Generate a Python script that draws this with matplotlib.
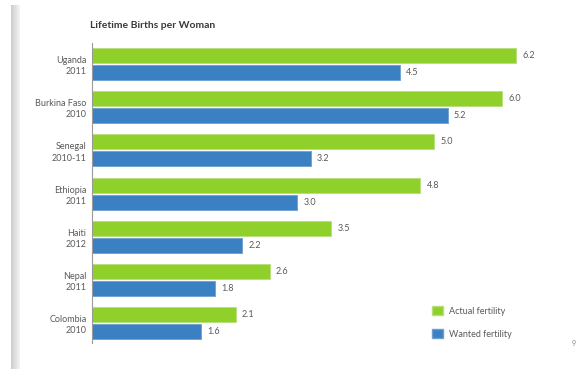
import matplotlib.pyplot as plt
import numpy as np
from matplotlib.patches import Patch

plt.rcParams['font.family'] = ['Lato', 'DejaVu Sans']

countries = ['Uganda\n2011', 'Burkina Faso\n2010', 'Senegal\n2010-11', 'Ethiopia\n2011',
             'Haiti\n2012', 'Nepal\n2011', 'Colombia\n2010']
actual = [6.2, 6.0, 5.0, 4.8, 3.5, 2.6, 2.1]
wanted = [4.5, 5.2, 3.2, 3.0, 2.2, 1.8, 1.6]

green = '#8fd02a'
blue = '#3b80c2'
grey_txt = '#5a5a5a'

W, H = 579, 369
fig = plt.figure(figsize=(W / 100, H / 100), dpi=100)

# scanned-page shadow on the left edge
bg = fig.add_axes([11 / W, 0, 9 / W, 1 - 5 / H])
grad = np.linspace(0.80, 0.96, 50).reshape(1, -1)
bg.imshow(grad, cmap='gray', vmin=0, vmax=1, aspect='auto', extent=[0, 1, 0, 1])
bg.axis('off')

# axes: x from px 92 to right edge, y from px 43 to 343
ax = fig.add_axes([92 / W, (H - 343) / H, (W - 92) / W, 300 / H])
y = np.arange(len(countries))
off = 8.5 / 43.2
h = 15 / 43.2
ax.barh(y - off, actual, height=h, color=green, edgecolor='#b9dd7a', linewidth=0.6)
ax.barh(y + off, wanted, height=h, color=blue, edgecolor='#6d9fcf', linewidth=0.6)

for i in range(len(countries)):
    ax.text(actual[i] + 0.09, y[i] - off, f'{actual[i]:.1f}', va='center', ha='left',
            fontsize=6.5, color=grey_txt)
    ax.text(wanted[i] + 0.09, y[i] + off, f'{wanted[i]:.1f}', va='center', ha='left',
            fontsize=6.5, color=grey_txt)

ax.set_xlim(0, (W - 92) / 68.4)
ax.set_ylim(6.458, -0.486)
ax.set_yticks(y)
ax.set_yticklabels(countries, fontsize=6.5, color=grey_txt, linespacing=1.3)
ax.tick_params(axis='y', length=0, pad=4)
ax.set_xticks([])
for s in ['top', 'right', 'bottom']:
    ax.spines[s].set_visible(False)
ax.spines['left'].set_color('#9a9a9a')
ax.spines['left'].set_linewidth(0.8)
ax.patch.set_alpha(0)

fig.text(90 / W, 1 - 26 / H, 'Lifetime Births per Woman', fontsize=7.5, fontweight='bold',
         color='#3a3a3a', va='center', ha='left')

handles = [Patch(facecolor=green, edgecolor='#b9dd7a'), Patch(facecolor=blue, edgecolor='#6d9fcf')]
fig.legend(handles, ['Actual fertility', 'Wanted fertility'], loc='upper left',
           bbox_to_anchor=(424 / W, 1 - 298 / H), frameon=False, fontsize=6.5,
           handlelength=1.22, handleheight=1.22, labelspacing=1.45, handletextpad=0.6,
           labelcolor=grey_txt)

fig.text(574 / W, 1 - 343 / H, '9', fontsize=5, color='#8a8a8a', va='center', ha='center')

fig.savefig('out.png', dpi=100)
